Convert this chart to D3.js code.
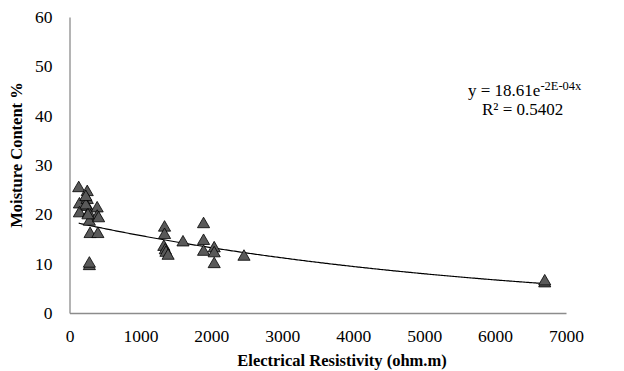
<!doctype html>
<html>
  <head>
    <style>
      body { margin: 0; background: #fff; }
      text { font-family: "Liberation Serif", "Times New Roman", serif; fill: #000; }
      .ttl { font-size: 16.5px; font-weight: bold; }
      .eq { font-size: 17px; }
    </style>
    <script src="https://cdnjs.cloudflare.com/ajax/libs/d3/7.8.5/d3.min.js"></script>
  </head>
  <body>
    <div id="chart"></div>
    <script>
      // resistivity (ohm.m) and moisture content (%)
      var resistivity = [130, 250, 140, 250, 250, 390, 140, 270, 390, 280, 410, 290, 400, 230, 260, 230, 280, 280,
                         1340, 1340, 1330, 1350, 1360, 1390, 1600, 1890, 1890, 1890, 2040, 2040, 2040, 2460, 6700, 6700];
      var moisture    = [25.3, 24.5, 22.0, 22.9, 21.5, 21.2, 20.2, 20.2, 19.5, 18.5, 19.2, 16.0, 16.0, 21.8, 19.8, 23.5, 9.5, 10.0,
                         17.3, 15.8, 13.4, 12.7, 12.2, 11.6, 14.3, 18.0, 14.6, 12.4, 13.1, 12.1, 9.9, 11.4, 6.0, 6.4];
      var xTicks = [0, 1000, 2000, 3000, 4000, 5000, 6000, 7000];
      var yTicks = [0, 10, 20, 30, 40, 50, 60];
      // exponential trendline y = a * e^(b x)
      var trendA = 18.61, trendB = -0.00017;

      var width = 624, height = 371;
      var svg = d3.select("#chart").append("svg")
                  .attr("width", width)
                  .attr("height", height);

      var x = d3.scaleLinear().domain([0, 7000]).range([69.5, 566]);
      var y = d3.scaleLinear().domain([0, 60]).range([313, 17]);

      // axes
      svg.append("g")
         .attr("transform", "translate(0," + y(0) + ")")
         .call(d3.axisBottom(x).tickValues(xTicks).tickSize(0).tickPadding(17).tickFormat(d3.format("d")));
      svg.append("g")
         .attr("transform", "translate(" + x(0) + ",0)")
         .call(d3.axisLeft(y).tickValues(yTicks).tickSize(0).tickPadding(17).tickFormat(d3.format("d")));
      svg.selectAll(".domain").attr("stroke", "#8c8c8c").attr("stroke-width", 1.3);
      svg.selectAll(".tick text")
         .attr("fill", "#000")
         .style("font-family", "Liberation Serif")
         .style("font-size", "17.5px");

      // trendline
      var xs = d3.range(d3.min(resistivity), d3.max(resistivity) + 1, 20);
      var line = d3.line()
                   .x(function(d) { return x(d); })
                   .y(function(d) { return y(trendA * Math.exp(trendB * d)); });
      svg.append("path")
         .datum(xs)
         .attr("d", line)
         .attr("fill", "none")
         .attr("stroke", "#000")
         .attr("stroke-width", 1.2);

      // markers
      var tri = d3.symbol().type(d3.symbolTriangle).size(64);
      svg.selectAll(".pt")
         .data(resistivity)
         .enter().append("path")
         .attr("class", "pt")
         .attr("d", tri)
         .attr("transform", function(d, i) { return "translate(" + x(d) + "," + y(moisture[i]) + ")"; })
         .attr("fill", "#595959")
         .attr("stroke", "#000")
         .attr("stroke-width", 0.8);

      // trendline equation
      var eq = svg.append("text").attr("class", "eq").attr("x", 468).attr("y", 96);
      eq.append("tspan").text("y = 18.61e");
      eq.append("tspan").attr("dy", -6).style("font-size", "12.5px").text("-2E-04x");
      svg.append("text").attr("class", "eq").attr("x", 482).attr("y", 115).text("R² = 0.5402");

      // axis titles
      svg.append("text").attr("class", "ttl")
         .attr("x", 342).attr("y", 366)
         .attr("text-anchor", "middle")
         .text("Electrical Resistivity (ohm.m)");
      svg.append("text").attr("class", "ttl")
         .attr("transform", "translate(22,155) rotate(-90)")
         .attr("text-anchor", "middle")
         .text("Moisture Content  %");
    </script>
  </body>
</html>
